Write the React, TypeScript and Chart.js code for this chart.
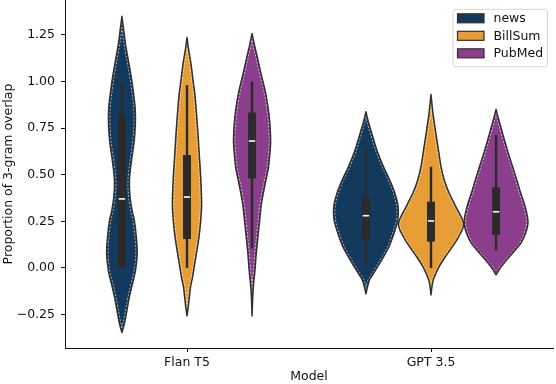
import React, { useEffect, useRef } from 'react';
import { Chart, registerables } from 'chart.js';

Chart.register(...registerables);

// ---------- data ----------
const models = ['Flan T5', 'GPT 3.5'];
const sources = ['news', 'BillSum', 'PubMed'];
const yTicks = [-0.25, 0, 0.25, 0.5, 0.75, 1.0, 1.25];

// KDE outlines: value levels (top -> bottom) and relative density (1 = widest violin)
const flanNewsLevels = [1.349, 1.28, 1.2, 1.1, 1.02, 0.93, 0.846, 0.76, 0.669, 0.57, 0.47, 0.38, 0.3, 0.257, 0.17, 0.079, -0.011, -0.08, -0.154, -0.26, -0.31, -0.346];
const flanNewsDensity = [0, 0.05, 0.11, 0.21, 0.29, 0.36, 0.41, 0.41, 0.37, 0.29, 0.23, 0.25, 0.32, 0.38, 0.44, 0.47, 0.42, 0.33, 0.23, 0.12, 0.06, 0];

const flanBillLevels = [1.235, 1.17, 1.096, 1.0, 0.917, 0.739, 0.6, 0.489, 0.346, 0.25, 0.168, 0.1, 0.025, -0.05, -0.1, -0.16, -0.207, -0.257];
const flanBillDensity = [0, 0.05, 0.12, 0.19, 0.25, 0.33, 0.38, 0.42, 0.45, 0.42, 0.37, 0.31, 0.24, 0.17, 0.11, 0.07, 0.04, 0];

const flanPubLevels = [1.256, 1.19, 1.123, 1.03, 0.944, 0.85, 0.766, 0.676, 0.6, 0.534, 0.45, 0.346, 0.25, 0.168, 0.08, -0.011, -0.08, -0.154, -0.257];
const flanPubDensity = [0, 0.08, 0.17, 0.29, 0.41, 0.5, 0.55, 0.57, 0.54, 0.5, 0.4, 0.29, 0.23, 0.18, 0.13, 0.09, 0.05, 0.02, 0];

const gptNewsLevels = [0.837, 0.78, 0.721, 0.63, 0.542, 0.471, 0.4, 0.328, 0.257, 0.19, 0.114, 0.06, 0.007, -0.03, -0.064, -0.1, -0.139];
const gptNewsDensity = [0, 0.08, 0.18, 0.34, 0.54, 0.73, 0.89, 0.99, 0.98, 0.87, 0.71, 0.54, 0.36, 0.23, 0.11, 0.05, 0];

const gptBillLevels = [0.93, 0.83, 0.721, 0.63, 0.542, 0.47, 0.4, 0.33, 0.239, 0.17, 0.114, 0.06, 0.007, -0.03, -0.064, -0.1, -0.145];
const gptBillDensity = [0, 0.06, 0.15, 0.23, 0.31, 0.41, 0.56, 0.76, 1.0, 0.86, 0.66, 0.44, 0.25, 0.15, 0.07, 0.03, 0];

const gptPubLevels = [0.85, 0.79, 0.721, 0.63, 0.542, 0.47, 0.4, 0.33, 0.239, 0.15, 0.1, 0.06, 0.007, -0.037];
const gptPubDensity = [0, 0.09, 0.2, 0.35, 0.51, 0.64, 0.76, 0.89, 0.98, 0.82, 0.61, 0.41, 0.16, 0];

// box stats: [whisker low, q1, median, q3, whisker high]
const flanNewsBox = [0, 0, 0.37, 0.82, 1.0];
const flanBillBox = [0, 0.155, 0.38, 0.605, 0.98];
const flanPubBox = [0.105, 0.48, 0.68, 0.833, 1.0];
const gptNewsBox = [0, 0.15, 0.28, 0.378, 0.64];
const gptBillBox = [0, 0.141, 0.252, 0.355, 0.542];
const gptPubBox = [0.096, 0.177, 0.301, 0.432, 0.712];

// ---------- styles ----------
const palette = ['#13395d', '#e69d36', '#8b3e8b'];
const lineGray = '#303030';
const FONT = 'DejaVu Sans';
const FS = 12.5;

const violins = [
  { model: 0, source: 0, levels: flanNewsLevels, density: flanNewsDensity, box: flanNewsBox },
  { model: 0, source: 1, levels: flanBillLevels, density: flanBillDensity, box: flanBillBox },
  { model: 0, source: 2, levels: flanPubLevels, density: flanPubDensity, box: flanPubBox },
  { model: 1, source: 0, levels: gptNewsLevels, density: gptNewsDensity, box: gptNewsBox },
  { model: 1, source: 1, levels: gptBillLevels, density: gptBillDensity, box: gptBillBox },
  { model: 1, source: 2, levels: gptPubLevels, density: gptPubDensity, box: gptPubBox },
];

const groupWidth = 0.8;
const violinWidth = groupWidth / sources.length;

function splinePath(ctx: CanvasRenderingContext2D, pts: number[][], moveFirst: boolean) {
  if (moveFirst) ctx.moveTo(pts[0][0], pts[0][1]);
  else ctx.lineTo(pts[0][0], pts[0][1]);
  for (let i = 0; i < pts.length - 1; i++) {
    const p0 = pts[Math.max(0, i - 1)];
    const p1 = pts[i];
    const p2 = pts[i + 1];
    const p3 = pts[Math.min(pts.length - 1, i + 2)];
    const c1x = p1[0] + (p2[0] - p0[0]) / 6;
    const c1y = p1[1] + (p2[1] - p0[1]) / 6;
    const c2x = p2[0] - (p3[0] - p1[0]) / 6;
    const c2y = p2[1] - (p3[1] - p1[1]) / 6;
    ctx.bezierCurveTo(c1x, c1y, c2x, c2y, p2[0], p2[1]);
  }
}

const violinPlugin = {
  id: 'violins',
  beforeDatasetsDraw(chart: any) {
    const ctx: CanvasRenderingContext2D = chart.ctx;
    const xs = chart.scales.x;
    const ys = chart.scales.y;
    ctx.save();
    violins.forEach((v) => {
      const center = v.model + (v.source - 1) * violinWidth;
      const cx = xs.getPixelForValue(center);
      const halfPx = xs.getPixelForValue(center + violinWidth / 2) - cx;
      const right = v.levels.map((lv, i) => [cx + v.density[i] * halfPx, ys.getPixelForValue(lv)]);
      const left = v.levels.map((lv, i) => [cx - v.density[i] * halfPx, ys.getPixelForValue(lv)]).reverse();
      // fill
      ctx.beginPath();
      splinePath(ctx, right, true);
      splinePath(ctx, left, false);
      ctx.closePath();
      ctx.fillStyle = palette[v.source];
      ctx.fill();
      // inner white dashed edge
      const inset = 1.4;
      const rightIn = v.levels.map((lv, i) => [cx + Math.max(0, v.density[i] * halfPx - inset), ys.getPixelForValue(lv)]);
      const leftIn = v.levels.map((lv, i) => [cx - Math.max(0, v.density[i] * halfPx - inset), ys.getPixelForValue(lv)]).reverse();
      ctx.beginPath();
      splinePath(ctx, rightIn, true);
      splinePath(ctx, leftIn, false);
      ctx.closePath();
      ctx.setLineDash([2, 1.6]);
      ctx.strokeStyle = 'rgba(255,255,255,0.9)';
      ctx.lineWidth = 0.7;
      ctx.stroke();
      ctx.setLineDash([]);
      // outline
      ctx.beginPath();
      splinePath(ctx, right, true);
      splinePath(ctx, left, false);
      ctx.closePath();
      ctx.strokeStyle = lineGray;
      ctx.lineWidth = 1.5;
      ctx.lineJoin = 'round';
      ctx.stroke();
      // inner box
      const [wl, q1, med, q3, wh] = v.box;
      ctx.strokeStyle = '#2b2b2b';
      ctx.lineWidth = 2.4;
      ctx.lineCap = 'butt';
      ctx.beginPath();
      ctx.moveTo(cx, ys.getPixelForValue(wh));
      ctx.lineTo(cx, ys.getPixelForValue(wl));
      ctx.stroke();
      const bw = 8;
      const yq3 = ys.getPixelForValue(q3);
      const yq1 = ys.getPixelForValue(q1);
      ctx.fillStyle = '#2b2b2b';
      ctx.fillRect(cx - bw / 2, yq3, bw, Math.max(2, yq1 - yq3));
      ctx.strokeStyle = '#ffffff';
      ctx.lineWidth = 1.6;
      ctx.beginPath();
      const ym = ys.getPixelForValue(med);
      ctx.moveTo(cx - bw / 2 + 0.8, ym);
      ctx.lineTo(cx + bw / 2 - 0.8, ym);
      ctx.stroke();
    });
    ctx.restore();
  },
  afterDraw(chart: any) {
    const ctx: CanvasRenderingContext2D = chart.ctx;
    const area = chart.chartArea;
    const w = 94.5;
    const h = 57.5;
    const x0 = area.right - w - 5.5;
    const y0 = area.top + 9.3;
    ctx.save();
    ctx.beginPath();
    const r = 3;
    ctx.moveTo(x0 + r, y0);
    ctx.arcTo(x0 + w, y0, x0 + w, y0 + h, r);
    ctx.arcTo(x0 + w, y0 + h, x0, y0 + h, r);
    ctx.arcTo(x0, y0 + h, x0, y0, r);
    ctx.arcTo(x0, y0, x0 + w, y0, r);
    ctx.closePath();
    ctx.fillStyle = 'rgba(255,255,255,0.85)';
    ctx.fill();
    ctx.strokeStyle = '#d6d6d6';
    ctx.lineWidth = 1;
    ctx.stroke();
    ctx.font = `${FS}px "${FONT}"`;
    ctx.textBaseline = 'middle';
    ctx.textAlign = 'left';
    sources.forEach((s, i) => {
      const cy = y0 + 9 + i * 17.5;
      ctx.fillStyle = palette[i];
      ctx.fillRect(x0 + 4.5, cy - 4.5, 26.5, 9);
      ctx.strokeStyle = lineGray;
      ctx.lineWidth = 1.2;
      ctx.strokeRect(x0 + 4.5, cy - 4.5, 26.5, 9);
      ctx.fillStyle = '#111';
      ctx.fillText(s, x0 + 40.5, cy + 0.5);
    });
    ctx.restore();
  },
};

function fmt(v: number) {
  const s = Math.abs(v).toFixed(2);
  return v < 0 ? '\u2212' + s : s;
}

export default function App() {
  const ref = useRef<HTMLCanvasElement>(null);
  useEffect(() => {
    if (!ref.current) return;
    Chart.defaults.font.family = FONT;
    const chart = new Chart(ref.current, {
      type: 'scatter',
      data: {
        datasets: sources.map((s, i) => ({
          label: s,
          data: violins.filter((v) => v.source === i).map((v) => ({ x: v.model + (i - 1) * violinWidth, y: v.box[2] })),
          pointRadius: 0,
          showLine: false,
          backgroundColor: palette[i],
        })),
      },
      options: {
        responsive: false,
        animation: false,
        events: [],
        layout: { padding: { left: 0, right: 3, top: 0, bottom: 0 } },
        plugins: { legend: { display: false }, tooltip: { enabled: false } },
        scales: {
          x: {
            type: 'linear',
            min: -0.5,
            max: 1.5,
            afterBuildTicks: (scale: any) => {
              scale.ticks = models.map((_, i) => ({ value: i }));
            },
            afterFit: (scale: any) => {
              scale.height = 36;
              scale.paddingLeft = 0;
              scale.paddingRight = 0;
            },
            ticks: {
              callback: (value: any) => models[Math.round(Number(value))],
              font: { size: FS },
              color: '#111',
              padding: 3,
              maxRotation: 0,
            },
            grid: { display: true, drawOnChartArea: false, drawTicks: true, tickLength: 4, color: '#111', tickWidth: 1 },
            border: { display: true, color: '#111', width: 1 },
            title: { display: true, text: 'Model', font: { size: FS }, color: '#111', padding: { top: 0, bottom: 0 } },
          },
          y: {
            type: 'linear',
            min: -0.429,
            max: 1.436,
            afterBuildTicks: (scale: any) => {
              scale.ticks = yTicks.map((v) => ({ value: v }));
            },
            afterFit: (scale: any) => {
              scale.width = 65;
              scale.paddingTop = 0;
              scale.paddingBottom = 0;
            },
            ticks: {
              callback: (value: any) => fmt(Number(value)),
              font: { size: FS },
              color: '#111',
              padding: 6,
            },
            grid: { display: true, drawOnChartArea: false, drawTicks: true, tickLength: 4, color: '#111', tickWidth: 1 },
            border: { display: true, color: '#111', width: 1 },
            title: { display: true, text: 'Proportion of 3-gram overlap', font: { size: FS }, color: '#111', padding: { top: 1, bottom: 0 } },
          },
        },
      },
      plugins: [violinPlugin],
    } as any);
    return () => chart.destroy();
  }, []);
  return (
    <div style={{ position: 'fixed', left: 0, top: 0, width: 556, height: 384, background: '#fff' }}>
      <canvas ref={ref} width={556} height={384} />
    </div>
  );
}
